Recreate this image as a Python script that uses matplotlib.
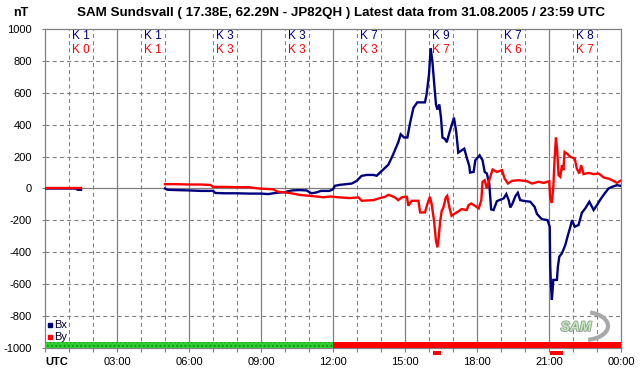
import numpy as np
import matplotlib
matplotlib.use("Agg")
import matplotlib.pyplot as plt
import matplotlib.patheffects as pe
from matplotlib.patches import Arc

plt.rcParams["font.family"] = ["Liberation Sans", "DejaVu Sans"]

# --- data (hours UTC, nT) ---
bx_early_h = [0.0, 1.3, 1.35, 1.5]
bx_early = [0, 0, -8, -8]
by_early_h = [0.0, 1.5]
by_early = [0, 0]

bx_h = [5.0, 5.1, 5.5, 6.0, 6.5, 7.0, 7.1, 7.5, 8.0, 8.5, 9.0, 9.3, 9.6, 10.0,
        10.3, 10.6, 10.9, 11.1, 11.3, 11.5, 11.85, 12.0, 12.08, 12.29, 12.78,
        12.99, 13.19, 13.40, 13.68, 13.82, 14.03, 14.31, 14.51, 14.72, 14.82,
        14.96, 15.10, 15.21, 15.35, 15.51, 15.83, 15.90, 16.0, 16.07, 16.14,
        16.21, 16.29, 16.35, 16.43, 16.5, 16.56, 16.67, 16.74, 16.85, 17.04,
        17.13, 17.22, 17.32, 17.47, 17.57, 17.68, 17.71, 17.86, 17.93, 18.11,
        18.23, 18.32, 18.41, 18.51, 18.59, 18.69, 18.83, 19.11, 19.22, 19.32,
        19.39, 19.48, 19.6, 19.7, 19.8, 20.01, 20.22, 20.4, 20.5, 20.7, 20.94,
        21.03, 21.05, 21.08, 21.12, 21.18, 21.33, 21.37, 21.43, 21.54, 21.68,
        21.79, 21.89, 21.96, 22.07, 22.23, 22.37, 22.51, 22.68, 22.86, 23.0,
        23.14, 23.34, 23.48, 23.62, 23.83, 23.97]
bx = [0, -8, -10, -12, -15, -15, -28, -30, -30, -32, -32, -35, -28, -22,
      -12, -10, -12, -30, -25, -15, -15, -5, 17, 23, 31,
      48, 79, 85, 85, 80, 110, 150, 215, 290, 340,
      320, 320, 410, 505, 540, 540, 590, 715, 880, 800,
      670, 527, 495, 527, 444, 320, 310, 290, 350, 444,
      360, 225, 235, 250, 195, 140, 100, 104, 177, 208,
      177, 104, 94, 31, -131, -135, -79, -62, -35, -73,
      -119, -94, -48, -27, -73, -79, -83, -115, -160, -192, -198,
      -240, -479, -604, -698, -573, -573, -490, -427, -406, -354,
      -292, -240, -198, -240, -229, -152, -125, -83, -135, -104,
      -69, -27, 0, 10, 21, 17]

by_h = [5.0, 5.5, 6.0, 6.5, 6.9, 7.0, 7.5, 8.0, 8.5, 8.9, 9.5, 9.7, 10.2,
        10.6, 11.3, 11.6, 11.9, 12.29, 12.7, 13.06, 13.2, 13.68, 13.96, 14.17,
        14.3, 14.44, 14.58, 14.72, 14.86, 15.0, 15.08, 15.14, 15.28, 15.56,
        15.63, 15.83, 15.93, 16.04, 16.11, 16.21, 16.29, 16.35, 16.4, 16.46,
        16.53, 16.6, 16.7, 16.76, 16.85, 16.94, 17.04, 17.22, 17.36, 17.57,
        17.65, 17.76, 17.93, 18.07, 18.18, 18.23, 18.32, 18.41, 18.51, 18.65,
        18.83, 19.04, 19.15, 19.29, 19.46, 19.73, 20.08, 20.29, 20.57, 20.78,
        21.01, 21.05, 21.12, 21.18, 21.23, 21.29, 21.34, 21.4, 21.47, 21.54,
        21.6, 21.65, 21.75, 21.89, 22.07, 22.16, 22.26, 22.34, 22.44, 22.65,
        22.86, 23.07, 23.28, 23.48, 23.69, 23.83, 23.97]
by = [27, 27, 25, 25, 22, 10, 10, 8, 8, 0, -5, -20, -28,
      -40, -50, -55, -50, -56, -60, -56, -77, -73, -60, -52,
      -40, -46, -56, -73, -56, -52, -52, -108, -77, -77,
      -150, -150, -98, -52, -98, -202, -327, -369, -317, -212,
      -140, -119, -56, -46, -119, -171, -160, -144, -129, -135,
      -104, -94, -110, -125, -73, 42, 52, 0, 52, 119,
      104, 115, 62, 31, 48, 52, 46, 31, 42, 35,
      46, -62, -90, 10, 177, 319, 240, 83, 73, 146,
      115, 229, 219, 198, 188, 125, 94, 146, 90, 98,
      90, 94, 69, 62, 48, 35, 48]

k_bx = [1, 1, 3, 3, 7, 9, 7, 8]
k_by = [0, 1, 3, 3, 3, 7, 6, 7]

# status bar along the bottom (start h, end h, colour)
status = [(0, 12, "#33cc33"), (12, 24, "#ff0000")]
# small markers below the axis
alerts = [(16.17, 16.5), (21.04, 21.6)]

x_labels = ["UTC", "03:00", "06:00", "09:00", "12:00", "15:00", "18:00", "21:00", "00:00"]

NAVY = "#000080"
RED = "#ff0000"
GRID = "#808080"

W, H = 642, 376
fig = plt.figure(figsize=(W / 100, H / 100), dpi=100)
ax = fig.add_axes([45 / W, 1 - 348 / H, 576 / W, 319 / H])
ax.set_xlim(0, 24)
ax.set_ylim(-1000, 1000)

dash = (0, (3.6, 2.9))
for h in range(1, 24):
    if h % 3 == 0:
        ax.axvline(h, color=GRID, lw=0.9, zorder=1)
    else:
        ax.axvline(h, color=GRID, lw=0.8, ls=dash, zorder=1)
for v in range(-800, 1000, 200):
    if v == 0:
        ax.axhline(0, color=GRID, lw=0.9, zorder=1)
    else:
        ax.axhline(v, color=GRID, lw=0.8, ls=dash, zorder=1)

ax.plot(bx_early_h, bx_early, color=NAVY, lw=1.7, zorder=3)
ax.plot(by_early_h, by_early, color=RED, lw=1.7, zorder=4)
ax.plot(bx_h, bx, color=NAVY, lw=1.7, zorder=3, solid_joinstyle="miter")
ax.plot(by_h, by, color=RED, lw=1.7, zorder=4, solid_joinstyle="miter")

for s, e, c in status:
    hatch = "...." if s == 0 else None
    ax.bar(s, 38, width=e - s, bottom=-1000, align="edge", color=c,
           hatch=hatch, edgecolor="#119911" if hatch else c, lw=0, zorder=5)
for s, e in alerts:
    ax.bar(s, -26, width=e - s, bottom=-1018, align="edge", color=RED,
           lw=0, zorder=5, clip_on=False)

for i, (kb, ky) in enumerate(zip(k_bx, k_by)):
    xc = 1.5 + 3 * i
    ax.text(xc, 956, f"K {kb}", color=NAVY, ha="center", va="center", fontsize=8.5, zorder=6)
    ax.text(xc, 866, f"K {ky}", color=RED, ha="center", va="center", fontsize=8.5, zorder=6)

for sp in ax.spines.values():
    sp.set_color(GRID)
    sp.set_linewidth(0.9)

ax.set_yticks(range(-1000, 1001, 200))
ax.set_yticklabels([str(v) for v in range(-1000, 1001, 200)], fontsize=8)
ax.tick_params(axis="y", length=2.5, width=0.8, color=GRID, pad=7)
ax.set_xticks(range(0, 25))
ax.set_xticklabels([""] * 25)
ax.tick_params(axis="x", length=3, width=0.8, color=GRID)
for i, lab in enumerate(x_labels):
    h = 3 * i
    if i == 0:
        ax.text(0, -1085, lab, fontsize=8, fontweight="bold", ha="left", va="center", clip_on=False)
    else:
        ax.text(h, -1085, lab, fontsize=8, ha="center", va="center", clip_on=False)

# legend
fig.patches.append(plt.Rectangle((48 / W, 1 - 327 / H), 4 / W, 4 / H, color=NAVY, transform=fig.transFigure))
fig.patches.append(plt.Rectangle((48 / W, 1 - 339 / H), 4 / W, 4 / H, color=RED, transform=fig.transFigure))
fig.text(54 / W, 1 - 325 / H, "Bx", fontsize=8, va="center", color="#000033")
fig.text(54 / W, 1 - 337 / H, "By", fontsize=8, va="center", color="#000033")

# logo
fig.patches.append(Arc((584 / W, 1 - 326 / H), 48 / W, 28 / H, theta1=-80, theta2=75,
                       color="#a8a8a8", lw=3, transform=fig.transFigure))
fig.text(576 / W, 1 - 327 / H, "SAM", fontsize=10, style="italic", fontweight="bold",
         color="#c8e6c0", ha="center", va="center",
         path_effects=[pe.withStroke(linewidth=1.2, foreground="#8aa08a")])

fig.text(21 / W, 1 - 13 / H, "nT", fontsize=9, fontweight="bold", ha="center", va="center")
fig.text(341 / W, 1 - 13 / H,
         "SAM Sundsvall ( 17.38E, 62.29N - JP82QH ) Latest data from 31.08.2005 / 23:59 UTC",
         fontsize=9.6, fontweight="bold", ha="center", va="center")

fig.savefig("out.png", dpi=100)
